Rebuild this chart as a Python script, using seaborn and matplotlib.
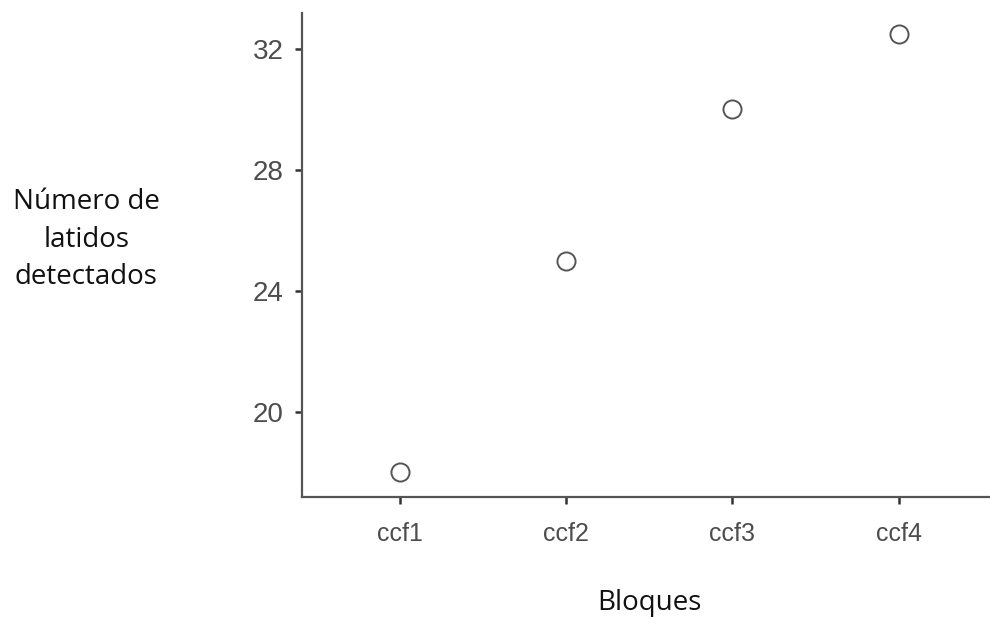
import matplotlib
matplotlib.use("Agg")
import matplotlib.pyplot as plt
import seaborn as sns
import pandas as pd

bloques = ["ccf1", "ccf2", "ccf3", "ccf4"]
latidos = [18, 25, 30, 32.5]
yticks = [20, 24, 28, 32]

sns.set_theme(style="white")
plt.rcParams['font.family'] = ['Liberation Sans', 'DejaVu Sans']

df = pd.DataFrame({"Bloques": bloques, "Latidos": latidos})

fig = plt.figure(figsize=(9.9, 6.18), dpi=100)
ax = fig.add_axes([0.305, 0.196, 0.695, 0.783])

sns.scatterplot(data=df, x="Bloques", y="Latidos", ax=ax, s=170,
                facecolor="white", edgecolor="#555555", linewidth=1.4, zorder=3)

ax.set_xlim(-0.59, 3.55)
ax.set_ylim(17.19, 33.19)
ax.set_yticks(yticks)
ax.set_yticklabels([str(t) for t in yticks])

for side in ["top", "right"]:
    ax.spines[side].set_visible(False)
for side in ["left", "bottom"]:
    ax.spines[side].set_color("#555555")
    ax.spines[side].set_linewidth(1.6)

ax.tick_params(axis="both", which="both", length=5, width=1.8, color="#333333",
               labelcolor="#4d4d4d", left=True, bottom=True)
ax.tick_params(axis="y", labelsize=20, pad=8)
ax.tick_params(axis="x", labelsize=18, pad=13)

ax.set_xlabel("")
ax.set_ylabel("")

fig.text(0.087, 0.612, "Número de\nlatidos\ndetectados", ha="center", va="center",
         fontsize=20, family=["Open Sans", "DejaVu Sans"], color="#111111",
         linespacing=1.45)
fig.text(0.656, 0.024, "Bloques", ha="center", va="center",
         fontsize=20, family=["Open Sans", "DejaVu Sans"], color="#111111")

fig.savefig("out.png", dpi=100)
